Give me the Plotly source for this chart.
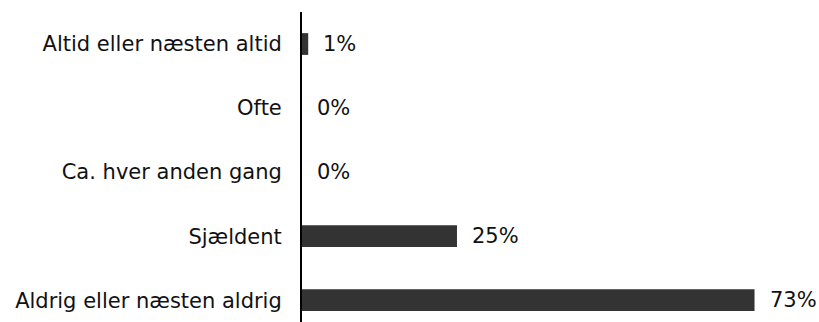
import plotly.graph_objects as go

# Survey answers and share of respondents (%)
categories = [
    "Altid eller næsten altid",
    "Ofte",
    "Ca. hver anden gang",
    "Sjældent",
    "Aldrig eller næsten aldrig",
]
values = [1, 0, 0, 25, 73]
labels = ["1%", "0%", "0%", "25%", "73%"]

FONT = "DejaVu Sans, Verdana, sans-serif"
FSIZE = 21

fig = go.Figure(
    go.Bar(
        x=values,
        y=categories,
        orientation="h",
        marker=dict(color="#333333", line=dict(width=0)),
        width=0.34,
        hoverinfo="skip",
    )
)

# value labels to the right of each bar
for cat, val, lab in zip(categories, values, labels):
    fig.add_annotation(
        x=val, y=cat, text=lab, showarrow=False,
        xanchor="left", yanchor="middle", xshift=13,
        font=dict(family=FONT, size=FSIZE, color="#111111"),
    )

fig.update_layout(
    width=819, height=322,
    margin=dict(l=302, r=0, t=12, b=0),
    paper_bgcolor="white", plot_bgcolor="white",
    showlegend=False,
    font=dict(family=FONT, size=FSIZE, color="#111111"),
    xaxis=dict(range=[0, 83.4], visible=False, fixedrange=True),
    yaxis=dict(
        type="category",
        categoryorder="array", categoryarray=categories,
        range=[4.34, -0.5],
        showline=True, linecolor="black", linewidth=2,
        showgrid=False, zeroline=False, ticks="",
        ticklabelstandoff=14,
        tickfont=dict(family=FONT, size=FSIZE, color="#111111"),
        fixedrange=True,
    ),
)

fig.write_html("out.html")
